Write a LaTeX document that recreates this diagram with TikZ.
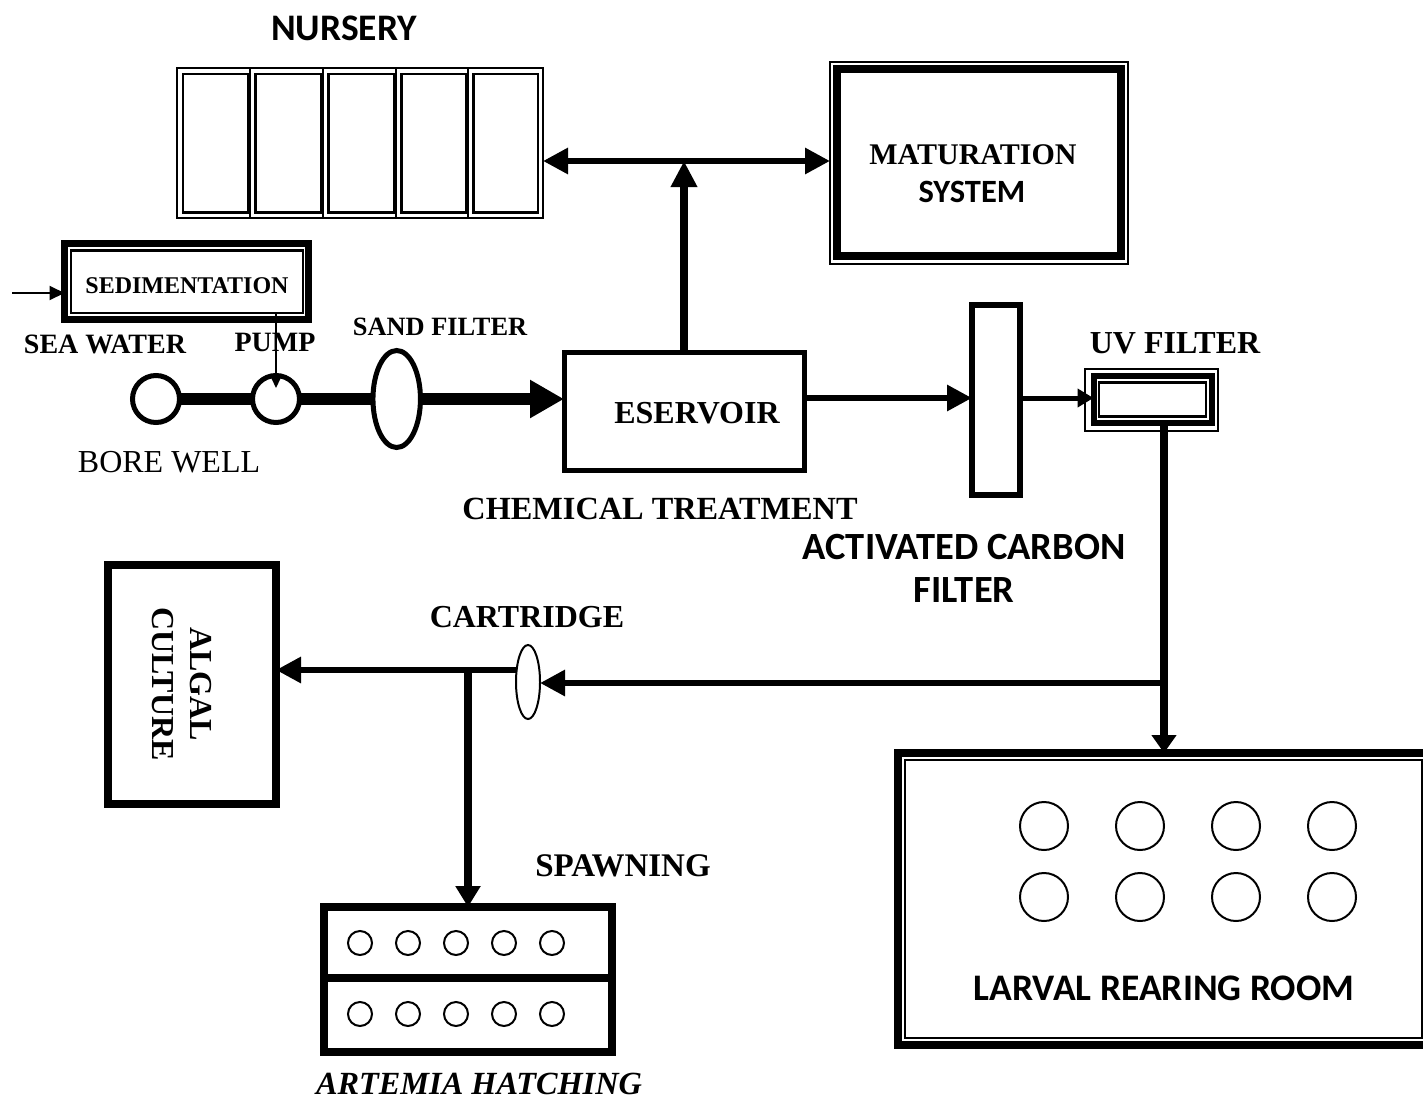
\documentclass[tikz,border=0pt]{standalone}
\usepackage{fontspec}
\setmainfont{Liberation Serif}
\newfontfamily\calfont{Carlito}
\usetikzlibrary{arrows.meta,shapes.geometric}
\tikzset{
  serlab/.style={inner sep=0pt,font=\fontsize{#1}{38}\selectfont\bfseries},
  serlab/.default=32,
  callab/.style={inner sep=0pt,font=\fontsize{#1}{43}\selectfont\calfont\bfseries},
  callab/.default=37.5,
  thinbox/.style={draw,inner sep=0pt,outer sep=0pt,line width=2.5pt},
  heavybox/.style={draw,inner sep=0pt,outer sep=0pt,line width=8pt},
  tank/.style={draw,circle,inner sep=0pt,outer sep=0pt,line width=2pt},
  pipe/.style={line width=6pt},
  bigtip/.style={-{Triangle[length=25pt,width=25pt]}},
}
\begin{document}
\begin{tikzpicture}[x=1pt,y=-1pt]
  \clip (0,0) rectangle (1423,1100);
  % nursery panels: outer edge, then inner edge
  \foreach \i/\xa/\xb/\xc/\xd in {1/177/250/183/248.5, 2/250/323/255.5/321.5, 3/323/396/328.5/394.5, 4/396/468/401.5/466.5, 5/468/543/473.5/538} {
    \node[thinbox,minimum width=\xb pt-\xa pt,minimum height=150pt] (nursout\i) at ({(\xa+\xb)/2},143) {};
    \node[thinbox,minimum width=\xd pt-\xc pt,minimum height=138.5pt] (nursin\i) at ({(\xc+\xd)/2},143) {};
  }
  \node[callab] (nurslab) at (344,28) {NURSERY};
  % maturation
  \node[thinbox,line width=2pt,minimum width=298pt,minimum height=202pt] (matout) at (979,162.5) {};
  \node[heavybox,minimum width=284pt,minimum height=187pt] (matin) at (979,162.5) {};
  \node[serlab=30] (matlab) at (973,155) {MATURATION};
  \node[callab=32.5] (syslab) at (972,192) {SYSTEM};
  % sedimentation
  \node[heavybox,line width=7pt,minimum width=244pt,minimum height=76pt] (sedout) at (186.5,281) {};
  \node[thinbox,minimum width=232pt,minimum height=62.5pt] (sedin) at (187,281.75) {};
  \node[serlab=24] (sedlab) at (187,286) {SEDIMENTATION};
  \coordinate (seain) at (12,293);
  \draw[line width=2pt,-{Triangle[length=15pt,width=14pt]}] (seain) -- (sedout.west |- seain);
  \node[serlab=28] (sealab) at (105,344) {SEA WATER};
  \node[serlab=28] (pumplab) at (275,342) {PUMP};
  \node[serlab=26.4] (sandlab) at (440,327) {SAND FILTER};
  % bore well line
  \node[tank,line width=5pt,minimum size=47pt] (well) at (156,399) {};
  \node[tank,line width=5pt,minimum size=47pt] (pump) at (276,399) {};
  \node[draw,ellipse,inner sep=0pt,outer sep=0pt,line width=5pt,minimum width=47.5pt,minimum height=97pt] (sand) at (396.7,399) {};
  \node[font=\fontsize{32}{36}\selectfont,inner sep=0pt] (welllab) at (169,462) {BORE WELL};
  \node[heavybox,line width=5pt,minimum width=240pt,minimum height=118pt] (res) at (684,411) {};
  \node[serlab] (reslab) at (697,413) {ESERVOIR};
  \node[serlab=32.3] (chemlab) at (660,509) {CHEMICAL TREATMENT};
  \draw[line width=12pt] (well) -- (pump);
  \draw[line width=12pt] (pump) -- (sand);
  \draw[line width=12pt,-{Triangle[length=34pt,width=36pt]}] (sand) -- (res.west |- sand);
  \draw[line width=2pt,-{Triangle[length=11pt,width=10pt]}] (sedin.south -| pump) -- (276,388);
  % reservoir to nursery and maturation
  \coordinate (tee) at (res.north |- 0,161);
  \draw[pipe,{Triangle[length=25pt,width=25pt]}-{Triangle[length=25pt,width=25pt]}] (nursout5.east |- tee) -- (matout.west |- tee);
  \draw[line width=8pt,-{Triangle[length=26pt,width=25pt]}] (res.north) -- (tee);
  % carbon and uv filters
  \node[heavybox,line width=6pt,minimum width=48pt,minimum height=190pt] (carbon) at (996,400) {};
  \node[callab=38.5,align=center] (carbonlab) at (964,568) {ACTIVATED CARBON\\FILTER};
  \node[thinbox,line width=2pt,minimum width=133.5pt,minimum height=62pt] (uvout) at (1151.7,400) {};
  \node[heavybox,line width=6pt,minimum width=118pt,minimum height=47pt] (uvmid) at (1152.5,399.5) {};
  \node[thinbox,minimum width=107pt,minimum height=34pt] (uvin) at (1152.5,399.5) {};
  \node[serlab] (uvlab) at (1175,343) {UV FILTER};
  \draw[pipe,bigtip] (res.east |- 0,398) -- (carbon.west |- 0,398);
  \draw[line width=5pt,-{Triangle[length=16pt,width=18pt]}] (carbon.east |- 0,398) -- (uvmid.west |- 0,398);
  % larval rearing room
  \node[heavybox,minimum width=534pt,minimum height=292pt] (larvout) at (1165,899) {};
  \node[thinbox,line width=2pt,minimum width=517pt,minimum height=278pt] (larvin) at (1163.5,899) {};
  \foreach \n/\x in {1/1044, 2/1140, 3/1236, 4/1332} {
    \node[tank,minimum size=48pt] (larvup\n) at (\x,826) {};
    \node[tank,minimum size=48pt] (larvlo\n) at (\x,897) {};
  }
  \node[callab] (larvlab) at (1164,988) {LARVAL REARING ROOM};
  \coordinate (uvdrop) at (1164,683);
  \draw[line width=8pt,-{Triangle[length=18pt,width=24pt]}] (uvmid.south -| uvdrop) -- (larvout.north -| uvdrop);
  % cartridge, algal culture and artemia
  \node[draw,ellipse,inner sep=0pt,outer sep=0pt,line width=2pt,minimum width=24pt,minimum height=74pt] (cart) at (528,682) {};
  \node[serlab] (cartlab) at (527,617) {CARTRIDGE};
  \draw[pipe,bigtip] (uvdrop) -- (cart.east |- uvdrop);
  \node[heavybox,minimum width=168pt,minimum height=239.5pt] (algal) at (192,684.7) {};
  \node[serlab,rotate=-90,align=center] (algallab) at (181.5,684) {ALGAL\\CULTURE};
  \coordinate (cartout) at (516,670);
  \coordinate (artdrop) at (468,670);
  \draw[pipe,bigtip] (cartout) -- (algal.east |- cartout);
  \node[heavybox,minimum width=288pt,minimum height=145pt] (artem) at (468,979.5) {};
  \draw[line width=8pt] (artem.west |- 0,978) -- (artem.east |- 0,978);
  \draw[line width=8pt,-{Triangle[length=21pt,width=24pt]}] (artdrop) -- (artem.north -| artdrop);
  \foreach \n/\x in {1/360, 2/408, 3/456, 4/504, 5/552} {
    \node[tank,minimum size=24pt] (artup\n) at (\x,943) {};
    \node[tank,minimum size=24pt] (artlo\n) at (\x,1014) {};
  }
  \node[serlab=33] (spawnlab) at (623,866) {SPAWNING};
  \node[font=\fontsize{32.3}{36}\selectfont\bfseries\itshape,inner sep=0pt] (artlab) at (479,1084) {ARTEMIA HATCHING};
\end{tikzpicture}
\end{document}
